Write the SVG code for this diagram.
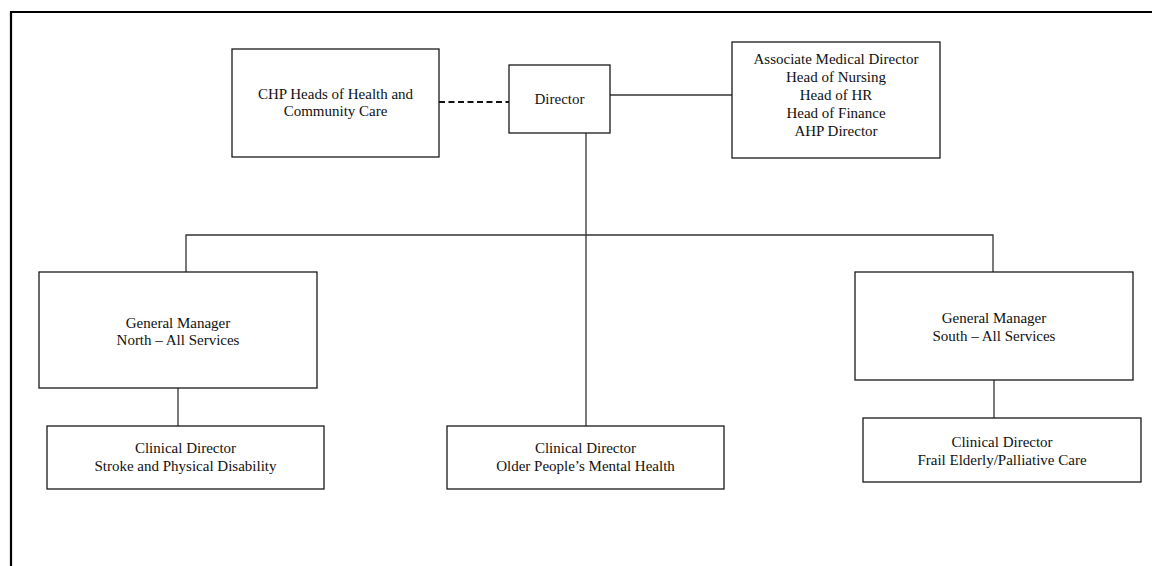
<svg xmlns="http://www.w3.org/2000/svg" width="1152" height="566" viewBox="0 0 1152 566">
<style>
  .box { fill: #ffffff; stroke: #1a1a1a; stroke-width: 1.3; }
  .lbl { font-family: "Liberation Serif", "Times New Roman", serif; font-size: 15px; fill: #111111; text-anchor: middle; }
  .conn { fill: none; stroke: #333333; stroke-width: 1.3; }
  .dash { fill: none; stroke: #111111; stroke-width: 2; stroke-dasharray: 6 3.5; }
  .frame { fill: none; stroke: #000000; stroke-width: 2.2; }
</style>
<rect x="0" y="0" width="1152" height="566" fill="#ffffff"/>
<path class="frame" d="M11,566 V12 H1152"/>
<g id="connectors">
  <line class="dash" x1="439" y1="102" x2="509" y2="102"/>
  <line class="conn" x1="610" y1="95" x2="732" y2="95"/>
  <line class="conn" x1="586" y1="133" x2="586" y2="426"/>
  <polyline class="conn" points="186,272 186,235 993,235 993,272"/>
  <line class="conn" x1="178" y1="388" x2="178" y2="426"/>
  <line class="conn" x1="994" y1="380" x2="994" y2="418"/>
</g>
<g id="chp">
  <rect class="box" x="232" y="49" width="207" height="108"/>
  <text class="lbl" x="335.5" y="99">CHP Heads of Health and</text>
  <text class="lbl" x="335.5" y="116">Community Care</text>
</g>
<g id="director">
  <rect class="box" x="509" y="65" width="101" height="68"/>
  <text class="lbl" x="559.5" y="104">Director</text>
</g>
<g id="heads">
  <rect class="box" x="732" y="42" width="208" height="116"/>
  <text class="lbl" x="836" y="64">Associate Medical Director</text>
  <text class="lbl" x="836" y="82">Head of Nursing</text>
  <text class="lbl" x="836" y="100">Head of HR</text>
  <text class="lbl" x="836" y="118">Head of Finance</text>
  <text class="lbl" x="836" y="136">AHP Director</text>
</g>
<g id="gm-north">
  <rect class="box" x="39" y="272" width="278" height="116"/>
  <text class="lbl" x="178" y="328">General Manager</text>
  <text class="lbl" x="178" y="345">North – All Services</text>
</g>
<g id="gm-south">
  <rect class="box" x="855" y="272" width="278" height="108"/>
  <text class="lbl" x="994" y="323">General Manager</text>
  <text class="lbl" x="994" y="341">South – All Services</text>
</g>
<g id="cd-stroke">
  <rect class="box" x="47" y="426" width="277" height="63"/>
  <text class="lbl" x="185.5" y="453">Clinical Director</text>
  <text class="lbl" x="185.5" y="471">Stroke and Physical Disability</text>
</g>
<g id="cd-older">
  <rect class="box" x="447" y="426" width="277" height="63"/>
  <text class="lbl" x="585.5" y="453">Clinical Director</text>
  <text class="lbl" x="585.5" y="471">Older People’s Mental Health</text>
</g>
<g id="cd-frail">
  <rect class="box" x="863" y="418" width="278" height="64"/>
  <text class="lbl" x="1002" y="447">Clinical Director</text>
  <text class="lbl" x="1002" y="465">Frail Elderly/Palliative Care</text>
</g>
</svg>
